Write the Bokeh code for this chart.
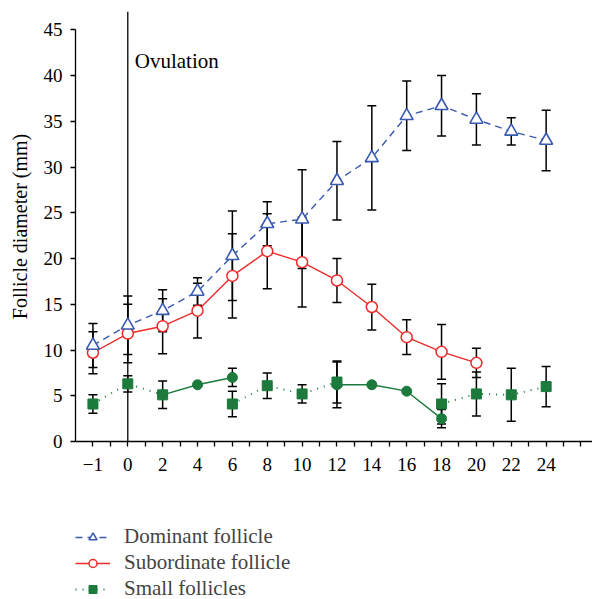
import numpy as np
from bokeh.plotting import figure
from bokeh.layouts import column
from bokeh.models import (ColumnDataSource, Range1d, FixedTicker, Whisker, TeeHead,
                          Label, Legend, LegendItem)
from bokeh.embed import file_html
from bokeh.resources import INLINE

# ---------------- data ----------------
days = [-1, 0, 2, 4, 6, 8, 10, 12, 14, 16, 18, 20, 22, 24]
day_labels = ["\u22121", "0", "2", "4", "6", "8", "10", "12", "14", "16", "18", "20", "22", "24"]

dominant_mean = [10.5, 12.7, 14.3, 16.4, 20.3, 23.8, 24.3, 28.5, 31.0, 35.6, 36.7, 35.2, 33.9, 32.9]
dominant_sd = [2.4, 3.2, 2.3, 1.5, 4.9, 2.4, 5.4, 4.3, 5.7, 3.8, 3.3, 2.8, 1.5, 3.3]

subordinate_mean = [9.7, 11.8, 12.6, 14.3, 18.1, 20.8, 19.6, 17.6, 14.7, 11.4, 9.8, 8.6, None, None]
subordinate_sd = [2.3, 3.2, 3.0, 3.0, 4.6, 4.1, 4.9, 2.4, 2.5, 1.9, 3.0, 1.6, None, None]

small_sq_mean = [4.1, 6.3, 5.1, None, 4.1, 6.1, 5.2, 6.5, None, None, 4.1, 5.2, 5.1, 6.0]
small_sq_sd = [1.0, 0.9, 1.5, None, 1.4, 1.4, 1.0, 2.3, None, None, 2.2, 2.4, 2.9, 2.2]

small_ci_mean = [None, None, 5.1, 6.2, 7.0, None, None, 6.2, 6.2, 5.5, 2.5, None, None, None]
small_ci_sd = [None, None, None, None, 1.0, None, None, 2.5, None, None, 1.0, None, None, None]

ovulation_day = 0
y_ticks = [0, 5, 10, 15, 20, 25, 30, 35, 40, 45]
y_top = 47

# ---------------- styles ----------------
BLUE = "#3a5ab0"
RED = "#ee2a2a"
GREEN = "#1b7a3c"
FONT = "Liberation Serif"

xi = np.arange(len(days), dtype=float)

p = figure(width=592, height=480, output_backend="svg", toolbar_location=None,
           x_range=Range1d(-0.5, 14.33), y_range=Range1d(0, y_top),
           min_border_left=75, min_border_right=0, min_border_top=11, min_border_bottom=39)
p.outline_line_color = None
p.grid.visible = False

# axes
n_ticks = 2 * len(days) + 1
p.xaxis.ticker = FixedTicker(ticks=[i * 0.5 for i in range(n_ticks)])
overrides = {}
for i in range(n_ticks):
    v = i * 0.5
    if i % 2 == 0 and i // 2 < len(day_labels):
        overrides[v] = day_labels[i // 2]
    else:
        overrides[v] = ""
p.xaxis.major_label_overrides = overrides
p.xaxis.minor_tick_line_color = None
p.yaxis.minor_tick_line_color = None
p.yaxis.ticker = FixedTicker(ticks=y_ticks)
p.yaxis.bounds = (0, 45)
for ax in (p.xaxis, p.yaxis):
    ax.major_tick_out = 5
    ax.major_tick_in = 0
    ax.axis_line_color = "black"
    ax.axis_line_width = 1.3
    ax.major_tick_line_width = 1.3
    ax.major_label_text_font = FONT
    ax.major_label_text_font_size = "19px"
    ax.major_label_text_color = "black"
p.xaxis.major_label_standoff = 11
p.yaxis.major_label_standoff = 8
p.yaxis.axis_label = "Follicle diameter (mm)"
p.yaxis.axis_label_text_font = FONT
p.yaxis.axis_label_text_font_style = "normal"
p.yaxis.axis_label_text_font_size = "20px"
p.yaxis.axis_label_text_color = "black"
p.yaxis.axis_label_standoff = 10

# ovulation line
ov_x = float(days.index(ovulation_day))
p.segment(x0=[ov_x], y0=[0], x1=[ov_x], y1=[y_top], line_color="black", line_width=1.3)
p.add_layout(Label(x=ov_x, y=41.6, text="Ovulation", x_offset=7, text_baseline="middle",
                   text_font=FONT, text_font_size="21px", text_color="black"))


def whiskers(mean, sd):
    m = np.array(mean, dtype=float)
    s = np.array(sd, dtype=float)
    ok = ~np.isnan(m) & ~np.isnan(s)
    src = ColumnDataSource(dict(x=xi[ok], lo=(m - s)[ok], hi=(m + s)[ok]))
    w = Whisker(source=src, base="x", lower="lo", upper="hi", dimension="height",
                line_color="black", line_width=1.5,
                upper_head=TeeHead(size=9, line_color="black", line_width=1.5),
                lower_head=TeeHead(size=9, line_color="black", line_width=1.5))
    p.add_layout(w)


whiskers(dominant_mean, dominant_sd)
whiskers(subordinate_mean, subordinate_sd)
whiskers(small_sq_mean, small_sq_sd)
whiskers(small_ci_mean, small_ci_sd)

src_dom = ColumnDataSource(dict(x=xi, y=np.array(dominant_mean, dtype=float)))
src_sub = ColumnDataSource(dict(x=xi, y=np.array(subordinate_mean, dtype=float)))
src_sq = ColumnDataSource(dict(x=xi, y=np.array(small_sq_mean, dtype=float)))
src_ci = ColumnDataSource(dict(x=xi, y=np.array(small_ci_mean, dtype=float)))

STY_DOM_L = dict(line_color=BLUE, line_width=1.4, line_dash="7 5")
STY_DOM_M = dict(marker="triangle", size=13, fill_color="white", line_color=BLUE, line_width=1.6)
STY_SUB_L = dict(line_color=RED, line_width=1.4)
STY_SUB_M = dict(marker="circle", size=11, fill_color="white", line_color=RED, line_width=1.5)
STY_SQ_L = dict(line_color=GREEN, line_width=2, line_dash="1 6")
STY_SQ_M = dict(marker="square", size=10, fill_color=GREEN, line_color=GREEN)
STY_CI_L = dict(line_color=GREEN, line_width=1.4)
STY_CI_M = dict(marker="circle", size=10, fill_color=GREEN, line_color=GREEN)

# small follicles
p.line("x", "y", source=src_ci, **STY_CI_L)
p.scatter("x", "y", source=src_ci, **STY_CI_M)
p.line("x", "y", source=src_sq, **STY_SQ_L)
p.scatter("x", "y", source=src_sq, **STY_SQ_M)
# subordinate
p.line("x", "y", source=src_sub, **STY_SUB_L)
p.scatter("x", "y", source=src_sub, **STY_SUB_M)
# dominant
p.line("x", "y", source=src_dom, **STY_DOM_L)
p.scatter("x", "y", source=src_dom, **STY_DOM_M)

# ---------------- legend (separate strip below, frames aligned with the chart) ----------------
lg = figure(width=592, height=119, output_backend="svg", toolbar_location=None,
            x_range=Range1d(0, 1), y_range=Range1d(-1, 0), x_axis_type=None, y_axis_type=None,
            min_border_left=0, min_border_right=0, min_border_top=0, min_border_bottom=0)
lg.outline_line_color = None
lg.grid.visible = False
# same sources as the chart; the strip's ranges keep these marks out of view
r_dl = lg.line("x", "y", source=src_dom, **STY_DOM_L)
r_dm = lg.scatter("x", "y", source=src_dom, **STY_DOM_M)
r_sl = lg.line("x", "y", source=src_sub, **STY_SUB_L)
r_sm = lg.scatter("x", "y", source=src_sub, **STY_SUB_M)
r_ql = lg.line("x", "y", source=src_sq, **STY_SQ_L)
r_qm = lg.scatter("x", "y", source=src_sq, **STY_SQ_M)

legend = Legend(items=[
    LegendItem(label="Dominant follicle", renderers=[r_dl, r_dm]),
    LegendItem(label="Subordinate follicle", renderers=[r_sl, r_sm]),
    LegendItem(label="Small follicles", renderers=[r_ql, r_qm]),
], location=(0, -2), orientation="vertical", padding=0, margin=0, spacing=1,
    label_height=20, glyph_height=20, glyph_width=35, label_standoff=14,
    label_text_font=FONT, label_text_font_size="21px", border_line_color=None,
    background_fill_alpha=0)
lg.add_layout(legend, "center")

layout = column(p, lg, spacing=0)
open("out.html", "w").write(file_html(layout, INLINE))
